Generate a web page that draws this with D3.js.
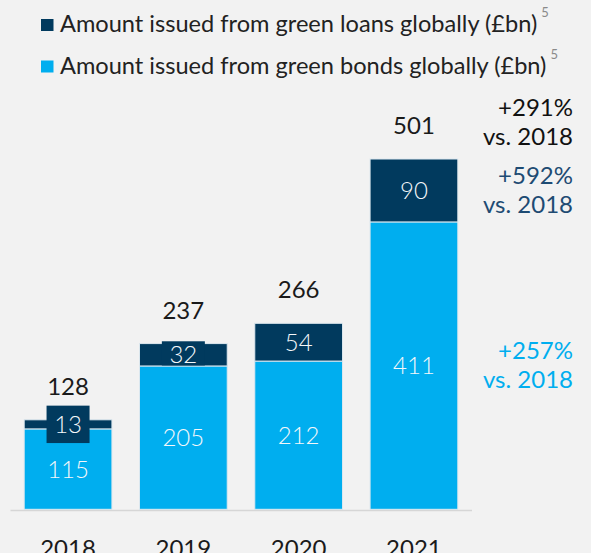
<!DOCTYPE html>
<html>
<head>
<meta charset="utf-8">
<script src="https://cdn.jsdelivr.net/npm/d3@7"></script>
<style>
  body { margin: 0; background: #f2f2f2; }
  svg { display: block; font-family: Lato, "Noto Sans", sans-serif; }
</style>
</head>
<body>
<div id="chart"></div>
<script>
// data
const years = ["2018", "2019", "2020", "2021"];
const bonds = [115, 205, 212, 411];
const loans = [13, 32, 54, 90];
const totals = [128, 237, 266, 501];
const legendLabels = ["Amount issued from green loans globally (£bn)", "Amount issued from green bonds globally (£bn)"];
const growthLabels = ["+291%", "+592%", "+257%"];
const growthSub = "vs. 2018";

const w = 591, h = 553;
const dark = "#013a5e", light = "#00aeef";
const fs = 24;

const svg = d3.select("#chart").append("svg")
    .attr("width", w)
    .attr("height", h);

svg.append("rect").attr("width", w).attr("height", h).attr("fill", "#f2f2f2");

let x = d3.scaleBand()
    .domain(years)
    .range([10, 472])
    .paddingInner(0.239)
    .paddingOuter(0.123);

let y = d3.scaleLinear()
    .domain([0, 501])
    .range([509.3, 159]);

let rows = years.map((yr, i) => ({year: yr, bond: bonds[i], loan: loans[i], total: totals[i]}));

// legend
let legend = svg.append("g");
[dark, light].forEach((c, i) => {
    let ly = 32 + i * 41.5;
    legend.append("rect")
        .attr("x", 41).attr("y", ly - 13)
        .attr("width", 12.5).attr("height", 12)
        .attr("fill", c);
    let t = legend.append("text")
        .attr("x", 60).attr("y", ly)
        .attr("font-size", 23.6)
        .attr("fill", "#222")
        .text(legendLabels[i]);
    let tw = t.node().getComputedTextLength();
    legend.append("text")
        .attr("x", 60 + tw + 4).attr("y", ly - 15)
        .attr("font-size", 13)
        .attr("fill", "#8a8a8a")
        .text("5");
});

// axis line
svg.append("line")
    .attr("x1", 10.5).attr("x2", 472)
    .attr("y1", 510.5).attr("y2", 510.5)
    .attr("stroke", "#d6d6d6")
    .attr("stroke-width", 1.5);

let bars = svg.selectAll(".bar")
    .data(rows)
    .enter()
    .append("g")
    .attr("class", "bar");

bars.append("rect")
    .attr("x", d => x(d.year))
    .attr("width", x.bandwidth())
    .attr("y", d => y(d.bond))
    .attr("height", d => y(0) - y(d.bond))
    .attr("fill", light)
    .attr("stroke", "#dde8ef")
    .attr("stroke-width", 1);

bars.append("rect")
    .attr("x", d => x(d.year))
    .attr("width", x.bandwidth())
    .attr("y", d => y(d.bond + d.loan))
    .attr("height", d => y(d.bond) - y(d.bond + d.loan))
    .attr("fill", dark)
    .attr("stroke", "#dde8ef")
    .attr("stroke-width", 1);

// thin loan segments get a label box
function boxSpan(d) {
    let top = y(d.bond + d.loan), bot = y(d.bond);
    if (bot - top < 12) {
        let mid = (top + bot) / 2;
        return [mid - 18.7, mid + 18.7];
    }
    return [top - 2.3, bot - 0.5];
}

bars.filter(d => y(d.bond) - y(d.bond + d.loan) < 30)
    .append("rect")
    .attr("x", d => x(d.year) + x.bandwidth() / 2 - 21.5)
    .attr("width", 43)
    .attr("y", d => boxSpan(d)[0])
    .attr("height", d => boxSpan(d)[1] - boxSpan(d)[0])
    .attr("fill", dark);

bars.append("text")
    .attr("x", d => x(d.year) + x.bandwidth() / 2)
    .attr("y", d => (y(d.bond) + y(d.bond + d.loan)) / 2)
    .attr("dy", "0.36em")
    .attr("text-anchor", "middle")
    .attr("font-size", fs)
    .attr("font-weight", 300)
    .attr("fill", "#f4f7fa")
    .text(d => d.loan);

bars.append("text")
    .attr("x", d => x(d.year) + x.bandwidth() / 2)
    .attr("y", d => (y(0) + y(d.bond)) / 2)
    .attr("dy", "0.36em")
    .attr("text-anchor", "middle")
    .attr("font-size", fs)
    .attr("font-weight", 300)
    .attr("fill", "#f4f7fa")
    .text(d => d.bond);

bars.append("text")
    .attr("x", d => x(d.year) + x.bandwidth() / 2)
    .attr("y", d => y(d.total) - 25)
    .attr("text-anchor", "middle")
    .attr("font-size", fs)
    .attr("fill", "#1a1a1a")
    .text(d => d.total);

bars.append("text")
    .attr("x", d => x(d.year) + x.bandwidth() / 2)
    .attr("y", 557)
    .attr("text-anchor", "middle")
    .attr("font-size", fs)
    .attr("fill", "#1a1a1a")
    .text(d => d.year);

// growth notes next to 2021
let last = rows[rows.length - 1];
let notes = [
    {label: growthLabels[0], mid: y(last.total) - 36.5, color: "#111"},
    {label: growthLabels[1], mid: (y(last.bond) + y(last.total)) / 2, color: "#1e4b73"},
    {label: growthLabels[2], mid: (y(0) + y(last.bond)) / 2, color: light}
];

notes.forEach(n => {
    let t = svg.append("text")
        .attr("text-anchor", "end")
        .attr("font-size", fs)
        .attr("fill", n.color);
    t.append("tspan").attr("x", 573).attr("y", n.mid - 6.5).text(n.label);
    t.append("tspan").attr("x", 573).attr("y", n.mid + 22.5).text(growthSub);
});
</script>
</body>
</html>
